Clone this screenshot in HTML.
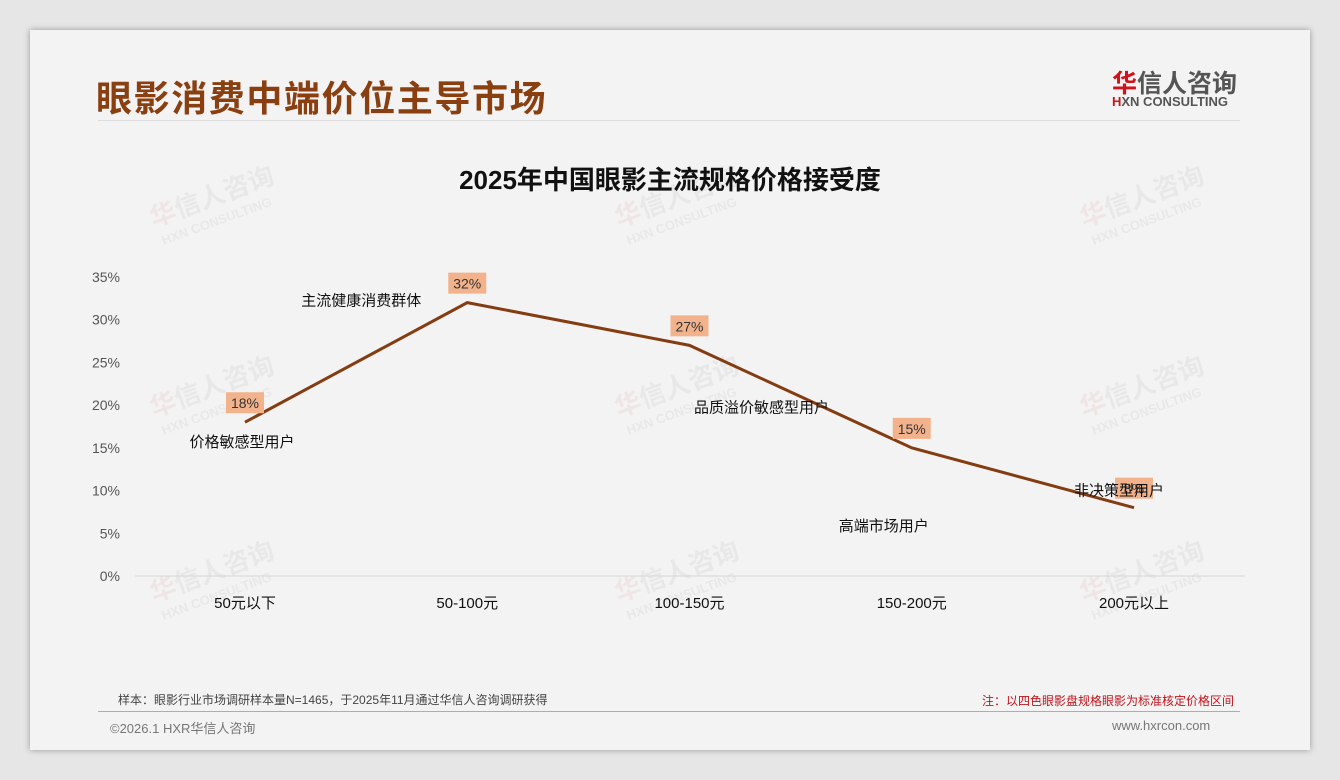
<!DOCTYPE html>
<html><head><meta charset="utf-8">
<style>
body{margin:0;width:1340px;height:780px;background:#e6e6e6;position:relative;overflow:hidden;font-family:"Liberation Sans","Noto Sans CJK SC",sans-serif;}
#card{position:absolute;left:30px;top:30px;width:1280px;height:720px;background:#f3f3f3;box-shadow:0 0 6px rgba(0,0,0,.35);}
.abs{position:absolute;white-space:nowrap;}
</style></head><body>
<div id="card">
<div class="abs" style="left:66px;top:40px;font-size:36px;font-weight:bold;color:#8a3f10;letter-spacing:1.6px;">眼影消费中端价位主导市场</div>
<div class="abs" style="left:1082px;top:34px;font-size:25px;color:#555;font-weight:bold;"><span style="color:#d0121b">华</span>信人咨询</div>
<div class="abs" style="left:1082px;top:64px;font-size:13px;color:#555;font-weight:bold;"><span style="color:#d0121b">H</span>XN CONSULTING</div>
<div class="abs" style="left:68px;top:90px;width:1142px;height:1px;background:#ddd;"></div>
<div class="abs" style="left:68px;top:681px;width:1142px;height:1px;background:#c9a58a;"></div>
<div class="abs" style="left:88px;top:661px;font-size:12px;color:#444;">样本：眼影行业市场调研样本量N=1465，于2025年11月通过华信人咨询调研获得</div>
<div class="abs" style="left:952px;top:662px;font-size:12px;color:#c0141c;">注：以四色眼影盘规格眼影为标准核定价格区间</div>
<div class="abs" style="left:80px;top:688px;font-size:13px;color:#777;">©2026.1 HXR华信人咨询</div>
<div class="abs" style="left:1082px;top:688px;font-size:13px;color:#777;">www.hxrcon.com</div>
</div>
<svg id="chart" width="1340" height="780" style="position:absolute;left:0;top:0"></svg>
<script>
const categories=["50元以下","50-100元","100-150元","150-200元","200元以上"];
const values=[18,32,27,15,8];
const yTicks=[0,5,10,15,20,25,30,35];
const notes=["价格敏感型用户","主流健康消费群体","品质溢价敏感型用户","高端市场用户","非决策型用户"];
const noteOffsets=[[-3,20],[-106,-2],[72,62],[-28,78],[-15,-17]];
const svg=document.getElementById('chart');const NS='http://www.w3.org/2000/svg';
function X(i){return 245+i*222.25;}
function Y(v){return 576-v*(576-277)/35;}
function mk(t,a,txt){const e=document.createElementNS(NS,t);for(const k in a)e.setAttribute(k,a[k]);if(txt!==undefined)e.textContent=txt;svg.appendChild(e);return e;}
[[215,205],[680,205],[1145,205],[215,395],[680,395],[1145,395],[215,580],[680,580],[1145,580]].forEach(p=>{
 const g=document.createElementNS(NS,'g');g.setAttribute('transform',`translate(${p[0]},${p[1]}) rotate(-20)`);g.setAttribute('opacity','0.05');
 
 g.innerHTML='<text x="-65" y="0" font-size="26" font-weight="bold" fill="#c00" font-family="Liberation Sans,Noto Sans CJK SC,sans-serif">华<tspan fill="#333">信人咨询</tspan></text><text x="-62" y="20" font-size="13" font-weight="bold" fill="#333" font-family="Liberation Sans,sans-serif">HXN CONSULTING</text>';
 svg.appendChild(g);});
let t=mk('text',{x:670,y:189,'text-anchor':'middle','font-size':26,'font-weight':'bold',fill:'#111','font-family':'Liberation Sans,Noto Sans CJK SC,sans-serif'},'2025年中国眼影主流规格价格接受度');


let ax=mk('line',{x1:135,x2:1245,y1:576,y2:576,stroke:'#d6d6d6'});


yTicks.forEach(v=>{const e=mk('text',{x:120,y:Y(v)+5,'text-anchor':'end','font-size':14,fill:'#555','font-family':'Liberation Sans,sans-serif'},v+'%');

});
categories.forEach((c,i)=>{const e=mk('text',{x:X(i),y:608,'text-anchor':'middle','font-size':15,fill:'#111','font-family':'Liberation Sans,Noto Sans CJK SC,sans-serif'},c);

});
let pl=mk('polyline',{points:values.map((v,i)=>X(i)+','+Y(v)).join(' '),fill:'none',stroke:'#843c12','stroke-width':3});


values.forEach((v,i)=>{const x=X(i),y=Y(v)-19;
 const r=mk('rect',{x:x-19,y:y-11,width:38,height:21,fill:'#f2b38c'});
 
 
 const e=mk('text',{x:x,y:y+5,'text-anchor':'middle','font-size':14,fill:'#333','font-family':'Liberation Sans,sans-serif'},v+'%');
 
 });
notes.forEach((n,i)=>{const e=mk('text',{x:X(i)+noteOffsets[i][0],y:Y(values[i])+noteOffsets[i][1]+5,'text-anchor':'middle','font-size':15,fill:'#111','font-family':'Liberation Sans,Noto Sans CJK SC,sans-serif'},n);

});
</script>
</body></html>
